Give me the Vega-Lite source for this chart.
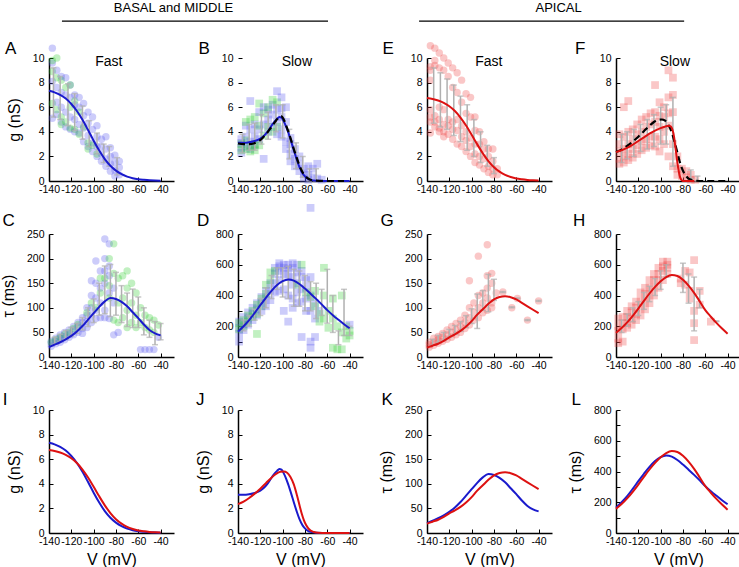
{
"$schema":"https://vega.github.io/schema/vega-lite/v6.json",
"background":"white",
"padding":{"left":0,"top":1,"right":0,"bottom":0},
"columns":4,
"spacing":{"row":53,"column":64},
"bounds":"flush",
"resolve":{"scale":{"x":"independent","y":"independent"}},
"config":{"view":{"stroke":null},"font":"Liberation Sans",
 "axis":{"domainColor":"#000","domainWidth":1.5,"tickColor":"#000","tickSize":-4,"tickWidth":1,"labelFontSize":10.5,"labelColor":"#000","labelFont":"Liberation Sans","titleFont":"Liberation Sans","titleFontSize":16,"titleFontWeight":"normal","titleColor":"#000","labelFlush":false,"labelOverlap":false,"grid":false},
 "axisX":{"labelPadding":7,"titlePadding":5},
 "axisY":{"labelPadding":9,"titlePadding":10},
 "text":{"font":"Liberation Sans","color":"#000"}},
"datasets":{
"pA":[{"v":-137,"y":10.8,"c":"b"},{"v":-137,"y":9.6,"c":"b"},{"v":-137,"y":8.1,"c":"b"},{"v":-137,"y":5.1,"c":"b"},{"v":-137,"y":9.8,"c":"g"},{"v":-137,"y":8.9,"c":"g"},{"v":-137,"y":6.3,"c":"g"},
{"v":-133,"y":9.0,"c":"b"},{"v":-133,"y":7.6,"c":"b"},{"v":-133,"y":6.4,"c":"b"},{"v":-133,"y":5.4,"c":"b"},{"v":-133,"y":10.0,"c":"g"},{"v":-133,"y":8.4,"c":"g"},{"v":-133,"y":5.8,"c":"g"},
{"v":-129,"y":8.5,"c":"b"},{"v":-129,"y":7.2,"c":"b"},{"v":-129,"y":6.0,"c":"b"},{"v":-129,"y":4.8,"c":"b"},{"v":-129,"y":8.2,"c":"g"},{"v":-129,"y":5.2,"c":"g"},{"v":-129,"y":4.6,"c":"g"},
{"v":-125,"y":8.4,"c":"b"},{"v":-125,"y":7.0,"c":"b"},{"v":-125,"y":5.6,"c":"b"},{"v":-125,"y":4.4,"c":"b"},{"v":-125,"y":7.6,"c":"g"},{"v":-125,"y":4.8,"c":"g"},
{"v":-121,"y":7.8,"c":"b"},{"v":-121,"y":6.8,"c":"b"},{"v":-121,"y":5.2,"c":"b"},{"v":-121,"y":4.2,"c":"b"},{"v":-121,"y":7.8,"c":"g"},{"v":-121,"y":6.0,"c":"g"},{"v":-121,"y":4.3,"c":"g"},
{"v":-117,"y":7.0,"c":"b"},{"v":-117,"y":6.2,"c":"b"},{"v":-117,"y":5.0,"c":"b"},{"v":-117,"y":4.0,"c":"b"},{"v":-117,"y":6.5,"c":"g"},{"v":-117,"y":4.2,"c":"g"},
{"v":-113,"y":6.8,"c":"b"},{"v":-113,"y":6.0,"c":"b"},{"v":-113,"y":4.6,"c":"b"},{"v":-113,"y":3.9,"c":"b"},{"v":-113,"y":5.6,"c":"g"},{"v":-113,"y":3.8,"c":"g"},
{"v":-109,"y":6.3,"c":"b"},{"v":-109,"y":5.3,"c":"b"},{"v":-109,"y":4.3,"c":"b"},{"v":-109,"y":3.2,"c":"b"},{"v":-109,"y":4.4,"c":"g"},
{"v":-105,"y":5.6,"c":"b"},{"v":-105,"y":4.7,"c":"b"},{"v":-105,"y":3.7,"c":"b"},{"v":-105,"y":2.8,"c":"b"},{"v":-105,"y":3.1,"c":"g"},{"v":-105,"y":2.6,"c":"g"},
{"v":-101,"y":5.2,"c":"b"},{"v":-101,"y":4.2,"c":"b"},{"v":-101,"y":3.1,"c":"b"},{"v":-101,"y":2.4,"c":"b"},{"v":-101,"y":2.9,"c":"g"},
{"v":-97,"y":4.5,"c":"b"},{"v":-97,"y":3.6,"c":"b"},{"v":-97,"y":2.8,"c":"b"},{"v":-97,"y":2.0,"c":"b"},{"v":-97,"y":2.2,"c":"g"},
{"v":-93,"y":3.4,"c":"b"},{"v":-93,"y":2.8,"c":"b"},{"v":-93,"y":2.2,"c":"b"},{"v":-93,"y":1.6,"c":"b"},
{"v":-89,"y":3.6,"c":"b"},{"v":-89,"y":2.6,"c":"b"},{"v":-89,"y":1.8,"c":"b"},{"v":-89,"y":1.2,"c":"b"},
{"v":-85,"y":2.7,"c":"b"},{"v":-85,"y":2.0,"c":"b"},{"v":-85,"y":1.4,"c":"b"},{"v":-85,"y":0.8,"c":"b"},
{"v":-81,"y":2.1,"c":"b"},{"v":-81,"y":1.5,"c":"b"},{"v":-81,"y":0.9,"c":"b"},{"v":-81,"y":0.4,"c":"b"},
{"v":-77,"y":1.6,"c":"b"},{"v":-77,"y":1.1,"c":"b"},{"v":-77,"y":0.5,"c":"b"}],
"eA":[{"v":-136,"y":5.2,"y2":9.2},{"v":-130,"y":5.0,"y2":8.5},{"v":-123,"y":4.5,"y2":7.9},{"v":-117,"y":4.1,"y2":7.1},{"v":-110,"y":3.4,"y2":6.1},{"v":-104,"y":2.8,"y2":4.9},{"v":-97,"y":2.2,"y2":3.9},{"v":-91,"y":1.5,"y2":3.0},{"v":-86,"y":1.2,"y2":2.8},{"v":-79,"y":0.5,"y2":1.9}],
"pB":[{"v":-137,"y":3.4,"c":"b"},{"v":-137,"y":3.1,"c":"b"},{"v":-137,"y":2.7,"c":"b"},{"v":-137,"y":2.3,"c":"b"},{"v":-137,"y":3.0,"c":"g"},{"v":-137,"y":2.5,"c":"g"},
{"v":-133,"y":4.5,"c":"b"},{"v":-133,"y":3.6,"c":"b"},{"v":-133,"y":2.8,"c":"b"},{"v":-133,"y":4.8,"c":"g"},{"v":-133,"y":3.3,"c":"g"},{"v":-133,"y":2.6,"c":"g"},
{"v":-129,"y":6.5,"c":"b"},{"v":-129,"y":4.2,"c":"b"},{"v":-129,"y":3.2,"c":"b"},{"v":-129,"y":2.6,"c":"b"},{"v":-129,"y":5.0,"c":"g"},{"v":-129,"y":2.8,"c":"g"},{"v":-129,"y":2.4,"c":"g"},
{"v":-125,"y":4.6,"c":"b"},{"v":-125,"y":3.6,"c":"b"},{"v":-125,"y":2.9,"c":"b"},{"v":-125,"y":5.2,"c":"g"},{"v":-125,"y":3.0,"c":"g"},{"v":-125,"y":2.5,"c":"g"},
{"v":-121,"y":5.6,"c":"b"},{"v":-121,"y":4.2,"c":"b"},{"v":-121,"y":3.4,"c":"b"},{"v":-121,"y":6.3,"c":"g"},{"v":-121,"y":4.5,"c":"g"},{"v":-121,"y":2.9,"c":"g"},
{"v":-117,"y":6.0,"c":"b"},{"v":-117,"y":4.6,"c":"b"},{"v":-117,"y":1.8,"c":"b"},{"v":-117,"y":5.5,"c":"g"},{"v":-117,"y":3.7,"c":"g"},
{"v":-113,"y":5.8,"c":"b"},{"v":-113,"y":5.0,"c":"b"},{"v":-113,"y":4.0,"c":"b"},{"v":-113,"y":6.0,"c":"g"},{"v":-113,"y":4.4,"c":"g"},
{"v":-109,"y":6.2,"c":"b"},{"v":-109,"y":5.4,"c":"b"},{"v":-109,"y":4.4,"c":"b"},{"v":-109,"y":6.6,"c":"g"},{"v":-109,"y":4.0,"c":"g"},
{"v":-105,"y":7.3,"c":"b"},{"v":-105,"y":5.8,"c":"b"},{"v":-105,"y":4.8,"c":"b"},{"v":-105,"y":3.8,"c":"b"},{"v":-105,"y":6.4,"c":"g"},{"v":-105,"y":4.4,"c":"g"},
{"v":-101,"y":6.8,"c":"b"},{"v":-101,"y":5.9,"c":"b"},{"v":-101,"y":5.2,"c":"b"},{"v":-101,"y":4.2,"c":"b"},{"v":-101,"y":3.6,"c":"b"},
{"v":-97,"y":6.0,"c":"b"},{"v":-97,"y":4.8,"c":"b"},{"v":-97,"y":3.2,"c":"b"},{"v":-97,"y":2.6,"c":"b"},
{"v":-93,"y":3.5,"c":"b"},{"v":-93,"y":3.0,"c":"b"},{"v":-93,"y":2.2,"c":"b"},{"v":-93,"y":1.6,"c":"b"},
{"v":-89,"y":2.6,"c":"b"},{"v":-89,"y":1.8,"c":"b"},{"v":-89,"y":1.2,"c":"b"},
{"v":-85,"y":2.0,"c":"b"},{"v":-85,"y":1.4,"c":"b"},{"v":-85,"y":0.8,"c":"b"},
{"v":-81,"y":1.0,"c":"b"},{"v":-81,"y":0.6,"c":"b"},{"v":-81,"y":0.2,"c":"b"},
{"v":-77,"y":1.2,"c":"b"},{"v":-77,"y":0.5,"c":"b"},{"v":-77,"y":0.1,"c":"b"},
{"v":-73,"y":1.0,"c":"b"},{"v":-73,"y":0.3,"c":"b"},{"v":-69,"y":1.4,"c":"b"},{"v":-69,"y":0.2,"c":"b"},{"v":-65,"y":0.1,"c":"b"}],
"eB":[{"v":-136,"y":2.3,"y2":3.8},{"v":-130,"y":2.5,"y2":4.6},{"v":-125,"y":2.5,"y2":4.7},{"v":-119,"y":3.0,"y2":5.4},{"v":-113,"y":3.4,"y2":5.6},{"v":-106,"y":4.0,"y2":6.2},{"v":-100,"y":3.5,"y2":6.2},{"v":-94,"y":1.8,"y2":4.2},{"v":-88,"y":1.0,"y2":3.1},{"v":-82,"y":0.3,"y2":2.0},{"v":-76,"y":0.0,"y2":1.0},{"v":-70,"y":0.0,"y2":1.0}],
"pE":[{"v":-137,"y":11.0,"c":"r"},{"v":-137,"y":9.3,"c":"r"},{"v":-137,"y":9.0,"c":"r"},{"v":-137,"y":8.2,"c":"r"},{"v":-137,"y":5.8,"c":"r"},{"v":-137,"y":5.2,"c":"r"},{"v":-137,"y":4.8,"c":"r"},{"v":-137,"y":3.9,"c":"r"},
{"v":-133,"y":10.8,"c":"r"},{"v":-133,"y":9.8,"c":"r"},{"v":-133,"y":9.4,"c":"r"},{"v":-133,"y":5.3,"c":"r"},{"v":-133,"y":4.8,"c":"r"},{"v":-133,"y":4.4,"c":"r"},
{"v":-129,"y":10.4,"c":"r"},{"v":-129,"y":9.2,"c":"r"},{"v":-129,"y":6.0,"c":"r"},{"v":-129,"y":5.0,"c":"r"},{"v":-129,"y":4.3,"c":"r"},{"v":-129,"y":4.0,"c":"r"},
{"v":-125,"y":10.0,"c":"r"},{"v":-125,"y":9.0,"c":"r"},{"v":-125,"y":5.8,"c":"r"},{"v":-125,"y":4.6,"c":"r"},{"v":-125,"y":4.0,"c":"r"},{"v":-125,"y":3.6,"c":"r"},
{"v":-121,"y":9.6,"c":"r"},{"v":-121,"y":8.5,"c":"r"},{"v":-121,"y":5.0,"c":"r"},{"v":-121,"y":4.5,"c":"r"},{"v":-121,"y":3.8,"c":"r"},
{"v":-117,"y":9.2,"c":"r"},{"v":-117,"y":7.6,"c":"r"},{"v":-117,"y":4.8,"c":"r"},{"v":-117,"y":4.2,"c":"r"},{"v":-117,"y":3.4,"c":"r"},
{"v":-113,"y":8.8,"c":"r"},{"v":-113,"y":7.2,"c":"r"},{"v":-113,"y":5.0,"c":"r"},{"v":-113,"y":4.1,"c":"r"},{"v":-113,"y":3.0,"c":"r"},
{"v":-109,"y":8.2,"c":"r"},{"v":-109,"y":6.4,"c":"r"},{"v":-109,"y":4.5,"c":"r"},{"v":-109,"y":3.6,"c":"r"},{"v":-109,"y":2.8,"c":"r"},
{"v":-105,"y":7.1,"c":"r"},{"v":-105,"y":5.5,"c":"r"},{"v":-105,"y":4.0,"c":"r"},{"v":-105,"y":3.3,"c":"r"},{"v":-105,"y":2.4,"c":"r"},
{"v":-101,"y":6.8,"c":"r"},{"v":-101,"y":5.2,"c":"r"},{"v":-101,"y":3.5,"c":"r"},{"v":-101,"y":2.8,"c":"r"},{"v":-101,"y":2.0,"c":"r"},
{"v":-97,"y":5.2,"c":"r"},{"v":-97,"y":4.1,"c":"r"},{"v":-97,"y":3.0,"c":"r"},{"v":-97,"y":2.2,"c":"r"},{"v":-97,"y":1.5,"c":"r"},
{"v":-93,"y":4.0,"c":"r"},{"v":-93,"y":3.0,"c":"r"},{"v":-93,"y":2.0,"c":"r"},{"v":-93,"y":1.3,"c":"r"},
{"v":-89,"y":3.2,"c":"r"},{"v":-89,"y":2.6,"c":"r"},{"v":-89,"y":1.8,"c":"r"},{"v":-89,"y":1.0,"c":"r"},
{"v":-85,"y":2.6,"c":"r"},{"v":-85,"y":2.0,"c":"r"},{"v":-85,"y":1.2,"c":"r"},{"v":-85,"y":0.7,"c":"r"},
{"v":-81,"y":2.6,"c":"r"},{"v":-81,"y":1.6,"c":"r"},{"v":-81,"y":1.0,"c":"r"},{"v":-81,"y":0.5,"c":"r"},
{"v":-77,"y":1.0,"c":"r"},{"v":-77,"y":0.5,"c":"r"}],
"eE":[{"v":-134,"y":4.7,"y2":9.2},{"v":-128,"y":4.4,"y2":8.8},{"v":-122,"y":4.2,"y2":8.3},{"v":-116,"y":3.7,"y2":7.8},{"v":-110,"y":3.2,"y2":6.9},{"v":-104,"y":2.5,"y2":6.2},{"v":-98,"y":2.0,"y2":5.0},{"v":-92,"y":1.5,"y2":4.0},{"v":-86,"y":1.2,"y2":2.9},{"v":-80,"y":0.6,"y2":1.9}],
"pF":[{"v":-137,"y":3.8,"c":"r"},{"v":-137,"y":3.0,"c":"r"},{"v":-137,"y":2.4,"c":"r"},{"v":-137,"y":1.8,"c":"r"},{"v":-137,"y":1.4,"c":"r"},
{"v":-133,"y":6.0,"c":"r"},{"v":-133,"y":3.6,"c":"r"},{"v":-133,"y":2.6,"c":"r"},{"v":-133,"y":2.0,"c":"r"},{"v":-133,"y":1.5,"c":"r"},
{"v":-129,"y":6.5,"c":"r"},{"v":-129,"y":4.0,"c":"r"},{"v":-129,"y":3.0,"c":"r"},{"v":-129,"y":2.2,"c":"r"},{"v":-129,"y":1.7,"c":"r"},
{"v":-125,"y":4.2,"c":"r"},{"v":-125,"y":3.4,"c":"r"},{"v":-125,"y":2.6,"c":"r"},{"v":-125,"y":1.9,"c":"r"},
{"v":-121,"y":4.6,"c":"r"},{"v":-121,"y":3.8,"c":"r"},{"v":-121,"y":2.9,"c":"r"},{"v":-121,"y":2.2,"c":"r"},
{"v":-117,"y":5.0,"c":"r"},{"v":-117,"y":4.0,"c":"r"},{"v":-117,"y":3.2,"c":"r"},{"v":-117,"y":2.5,"c":"r"},
{"v":-113,"y":5.2,"c":"r"},{"v":-113,"y":4.4,"c":"r"},{"v":-113,"y":3.4,"c":"r"},{"v":-113,"y":2.7,"c":"r"},
{"v":-109,"y":5.5,"c":"r"},{"v":-109,"y":4.6,"c":"r"},{"v":-109,"y":3.6,"c":"r"},{"v":-109,"y":2.9,"c":"r"},
{"v":-105,"y":7.8,"c":"r"},{"v":-105,"y":5.6,"c":"r"},{"v":-105,"y":4.8,"c":"r"},{"v":-105,"y":3.6,"c":"r"},{"v":-105,"y":2.8,"c":"r"},
{"v":-101,"y":6.4,"c":"r"},{"v":-101,"y":5.3,"c":"r"},{"v":-101,"y":4.4,"c":"r"},{"v":-101,"y":3.4,"c":"r"},{"v":-101,"y":2.4,"c":"r"},
{"v":-97,"y":6.0,"c":"r"},{"v":-97,"y":5.2,"c":"r"},{"v":-97,"y":4.0,"c":"r"},{"v":-97,"y":3.0,"c":"r"},
{"v":-93,"y":9.0,"c":"r"},{"v":-93,"y":6.8,"c":"r"},{"v":-93,"y":5.5,"c":"r"},{"v":-93,"y":4.5,"c":"r"},{"v":-93,"y":2.0,"c":"r"},
{"v":-89,"y":8.4,"c":"r"},{"v":-89,"y":7.0,"c":"r"},{"v":-89,"y":5.6,"c":"r"},{"v":-89,"y":3.0,"c":"r"},{"v":-89,"y":1.2,"c":"r"},
{"v":-85,"y":2.0,"c":"r"},{"v":-85,"y":1.0,"c":"r"},{"v":-85,"y":0.5,"c":"r"},{"v":-81,"y":1.0,"c":"r"},{"v":-81,"y":0.4,"c":"r"},
{"v":-77,"y":0.8,"c":"r"},{"v":-77,"y":0.3,"c":"r"},{"v":-73,"y":0.5,"c":"r"},{"v":-73,"y":0.1,"c":"r"},{"v":-69,"y":0.1,"c":"r"}],
"eF":[{"v":-135,"y":1.5,"y2":3.8},{"v":-130,"y":1.8,"y2":4.0},{"v":-124,"y":2.0,"y2":4.2},{"v":-118,"y":2.4,"y2":4.6},{"v":-112,"y":2.6,"y2":5.0},{"v":-106,"y":2.8,"y2":5.4},{"v":-100,"y":3.0,"y2":6.0},{"v":-95,"y":3.0,"y2":6.2},{"v":-89,"y":1.2,"y2":6.8},{"v":-73,"y":0.2,"y2":0.9},{"v":-67,"y":0.0,"y2":0.4}],
"pC":[{"v":-138,"y":32,"c":"b"},{"v":-138,"y":28,"c":"b"},{"v":-138,"y":22,"c":"b"},{"v":-138,"y":30,"c":"g"},
{"v":-134,"y":38,"c":"b"},{"v":-134,"y":33,"c":"b"},{"v":-134,"y":27,"c":"b"},{"v":-134,"y":35,"c":"g"},
{"v":-130,"y":45,"c":"b"},{"v":-130,"y":38,"c":"b"},{"v":-130,"y":30,"c":"b"},{"v":-130,"y":40,"c":"g"},
{"v":-126,"y":50,"c":"b"},{"v":-126,"y":42,"c":"b"},{"v":-126,"y":35,"c":"b"},{"v":-126,"y":46,"c":"g"},
{"v":-122,"y":55,"c":"b"},{"v":-122,"y":48,"c":"b"},{"v":-122,"y":40,"c":"b"},{"v":-122,"y":50,"c":"g"},
{"v":-118,"y":62,"c":"b"},{"v":-118,"y":55,"c":"b"},{"v":-118,"y":45,"c":"b"},{"v":-118,"y":58,"c":"g"},
{"v":-114,"y":70,"c":"b"},{"v":-114,"y":62,"c":"b"},{"v":-114,"y":50,"c":"b"},{"v":-114,"y":66,"c":"g"},
{"v":-110,"y":80,"c":"b"},{"v":-110,"y":70,"c":"b"},{"v":-110,"y":58,"c":"b"},{"v":-110,"y":48,"c":"b"},
{"v":-106,"y":100,"c":"b"},{"v":-106,"y":85,"c":"b"},{"v":-106,"y":72,"c":"b"},{"v":-106,"y":60,"c":"b"},{"v":-106,"y":90,"c":"g"},
{"v":-102,"y":155,"c":"b"},{"v":-102,"y":125,"c":"b"},{"v":-102,"y":100,"c":"b"},{"v":-102,"y":85,"c":"b"},{"v":-102,"y":70,"c":"b"},{"v":-102,"y":110,"c":"g"},
{"v":-98,"y":195,"c":"b"},{"v":-98,"y":150,"c":"b"},{"v":-98,"y":120,"c":"b"},{"v":-98,"y":95,"c":"b"},{"v":-98,"y":78,"c":"b"},{"v":-98,"y":100,"c":"g"},
{"v":-94,"y":175,"c":"b"},{"v":-94,"y":140,"c":"b"},{"v":-94,"y":110,"c":"b"},{"v":-94,"y":80,"c":"b"},{"v":-94,"y":160,"c":"g"},{"v":-94,"y":130,"c":"g"},
{"v":-90,"y":240,"c":"b"},{"v":-90,"y":200,"c":"b"},{"v":-90,"y":175,"c":"b"},{"v":-90,"y":150,"c":"b"},{"v":-90,"y":95,"c":"b"},{"v":-90,"y":80,"c":"b"},{"v":-90,"y":160,"c":"g"},
{"v":-86,"y":230,"c":"b"},{"v":-86,"y":185,"c":"b"},{"v":-86,"y":165,"c":"b"},{"v":-86,"y":130,"c":"b"},{"v":-86,"y":78,"c":"b"},{"v":-86,"y":200,"c":"g"},{"v":-86,"y":145,"c":"g"},{"v":-86,"y":120,"c":"g"},
{"v":-82,"y":140,"c":"b"},{"v":-82,"y":110,"c":"b"},{"v":-82,"y":45,"c":"b"},{"v":-82,"y":230,"c":"g"},{"v":-82,"y":170,"c":"g"},{"v":-82,"y":75,"c":"g"},
{"v":-78,"y":50,"c":"b"},{"v":-78,"y":160,"c":"g"},{"v":-78,"y":110,"c":"g"},{"v":-78,"y":70,"c":"g"},
{"v":-74,"y":165,"c":"g"},{"v":-74,"y":120,"c":"g"},{"v":-74,"y":80,"c":"g"},
{"v":-70,"y":175,"c":"g"},{"v":-70,"y":140,"c":"g"},{"v":-70,"y":95,"c":"g"},{"v":-70,"y":60,"c":"g"},
{"v":-66,"y":150,"c":"g"},{"v":-66,"y":110,"c":"g"},{"v":-66,"y":70,"c":"g"},
{"v":-62,"y":130,"c":"g"},{"v":-62,"y":85,"c":"g"},{"v":-62,"y":60,"c":"g"},
{"v":-58,"y":100,"c":"g"},{"v":-58,"y":70,"c":"g"},{"v":-58,"y":15,"c":"b"},
{"v":-54,"y":85,"c":"g"},{"v":-54,"y":60,"c":"g"},{"v":-54,"y":15,"c":"b"},
{"v":-50,"y":80,"c":"g"},{"v":-50,"y":55,"c":"g"},{"v":-50,"y":15,"c":"b"},
{"v":-46,"y":75,"c":"g"},{"v":-46,"y":50,"c":"g"},{"v":-46,"y":15,"c":"b"},
{"v":-42,"y":65,"c":"g"},{"v":-42,"y":40,"c":"b"}],
"eC":[{"v":-135,"y":26,"y2":40},{"v":-130,"y":32,"y2":46},{"v":-125,"y":36,"y2":54},{"v":-120,"y":42,"y2":60},{"v":-115,"y":48,"y2":68},{"v":-110,"y":55,"y2":80},{"v":-105,"y":62,"y2":100},{"v":-100,"y":70,"y2":118},{"v":-95,"y":85,"y2":150},{"v":-90,"y":88,"y2":185},{"v":-85,"y":82,"y2":188},{"v":-80,"y":85,"y2":172},{"v":-75,"y":70,"y2":145},{"v":-70,"y":62,"y2":130},{"v":-65,"y":60,"y2":138},{"v":-60,"y":60,"y2":122},{"v":-55,"y":45,"y2":100},{"v":-50,"y":40,"y2":75},{"v":-45,"y":25,"y2":72},{"v":-40,"y":35,"y2":68}],
"pD":[{"v":-139,"y":230,"c":"b"},{"v":-139,"y":190,"c":"b"},{"v":-139,"y":150,"c":"b"},{"v":-139,"y":100,"c":"b"},{"v":-139,"y":220,"c":"g"},{"v":-139,"y":180,"c":"g"},
{"v":-135,"y":260,"c":"b"},{"v":-135,"y":215,"c":"b"},{"v":-135,"y":175,"c":"b"},{"v":-135,"y":240,"c":"g"},{"v":-135,"y":200,"c":"g"},
{"v":-131,"y":290,"c":"b"},{"v":-131,"y":250,"c":"b"},{"v":-131,"y":210,"c":"b"},{"v":-131,"y":270,"c":"g"},{"v":-131,"y":230,"c":"g"},
{"v":-127,"y":320,"c":"b"},{"v":-127,"y":280,"c":"b"},{"v":-127,"y":240,"c":"b"},{"v":-127,"y":300,"c":"g"},{"v":-127,"y":260,"c":"g"},
{"v":-123,"y":350,"c":"b"},{"v":-123,"y":310,"c":"b"},{"v":-123,"y":270,"c":"b"},{"v":-123,"y":340,"c":"g"},{"v":-123,"y":280,"c":"g"},{"v":-123,"y":150,"c":"g"},
{"v":-119,"y":390,"c":"b"},{"v":-119,"y":350,"c":"b"},{"v":-119,"y":300,"c":"b"},{"v":-119,"y":380,"c":"g"},{"v":-119,"y":330,"c":"g"},
{"v":-115,"y":430,"c":"b"},{"v":-115,"y":380,"c":"b"},{"v":-115,"y":330,"c":"b"},{"v":-115,"y":470,"c":"g"},{"v":-115,"y":410,"c":"g"},
{"v":-111,"y":480,"c":"b"},{"v":-111,"y":430,"c":"b"},{"v":-111,"y":370,"c":"b"},{"v":-111,"y":550,"c":"g"},{"v":-111,"y":500,"c":"g"},
{"v":-107,"y":580,"c":"b"},{"v":-107,"y":540,"c":"b"},{"v":-107,"y":480,"c":"b"},{"v":-107,"y":420,"c":"b"},{"v":-107,"y":560,"c":"g"},
{"v":-103,"y":610,"c":"b"},{"v":-103,"y":590,"c":"b"},{"v":-103,"y":560,"c":"b"},{"v":-103,"y":500,"c":"b"},{"v":-103,"y":430,"c":"b"},
{"v":-99,"y":600,"c":"b"},{"v":-99,"y":580,"c":"b"},{"v":-99,"y":540,"c":"b"},{"v":-99,"y":440,"c":"b"},{"v":-99,"y":300,"c":"b"},
{"v":-95,"y":600,"c":"b"},{"v":-95,"y":570,"c":"b"},{"v":-95,"y":520,"c":"b"},{"v":-95,"y":400,"c":"b"},{"v":-95,"y":230,"c":"b"},
{"v":-91,"y":610,"c":"b"},{"v":-91,"y":580,"c":"b"},{"v":-91,"y":520,"c":"b"},{"v":-91,"y":470,"c":"b"},{"v":-91,"y":380,"c":"b"},{"v":-91,"y":320,"c":"b"},
{"v":-87,"y":600,"c":"b"},{"v":-87,"y":550,"c":"b"},{"v":-87,"y":480,"c":"b"},{"v":-87,"y":420,"c":"b"},{"v":-87,"y":350,"c":"b"},{"v":-87,"y":470,"c":"g"},
{"v":-83,"y":560,"c":"b"},{"v":-83,"y":520,"c":"b"},{"v":-83,"y":440,"c":"b"},{"v":-83,"y":360,"c":"b"},{"v":-83,"y":130,"c":"b"},{"v":-83,"y":600,"c":"g"},
{"v":-79,"y":500,"c":"b"},{"v":-79,"y":450,"c":"b"},{"v":-79,"y":380,"c":"b"},{"v":-79,"y":300,"c":"b"},{"v":-79,"y":420,"c":"g"},
{"v":-75,"y":520,"c":"b"},{"v":-75,"y":400,"c":"b"},{"v":-75,"y":300,"c":"b"},{"v":-75,"y":100,"c":"b"},{"v":-75,"y":60,"c":"b"},{"v":-75,"y":970,"c":"b"},{"v":-75,"y":390,"c":"g"},
{"v":-71,"y":350,"c":"b"},{"v":-71,"y":250,"c":"b"},{"v":-71,"y":130,"c":"b"},{"v":-71,"y":430,"c":"g"},{"v":-71,"y":330,"c":"g"},
{"v":-67,"y":300,"c":"b"},{"v":-67,"y":280,"c":"g"},{"v":-67,"y":230,"c":"g"},
{"v":-63,"y":580,"c":"g"},{"v":-63,"y":400,"c":"g"},{"v":-63,"y":250,"c":"g"},
{"v":-59,"y":300,"c":"g"},{"v":-59,"y":190,"c":"g"},
{"v":-55,"y":380,"c":"g"},{"v":-55,"y":250,"c":"g"},{"v":-55,"y":60,"c":"g"},
{"v":-51,"y":50,"c":"g"},{"v":-51,"y":200,"c":"g"},
{"v":-47,"y":400,"c":"g"},{"v":-47,"y":160,"c":"g"},{"v":-47,"y":50,"c":"g"},
{"v":-43,"y":200,"c":"g"},{"v":-43,"y":120,"c":"g"},
{"v":-40,"y":210,"c":"b"},{"v":-40,"y":170,"c":"g"},{"v":-40,"y":140,"c":"g"}],
"eD":[{"v":-135,"y":170,"y2":240},{"v":-130,"y":200,"y2":270},{"v":-125,"y":240,"y2":310},{"v":-120,"y":270,"y2":380},{"v":-115,"y":320,"y2":450},{"v":-110,"y":380,"y2":530},{"v":-105,"y":440,"y2":580},{"v":-100,"y":390,"y2":580},{"v":-95,"y":380,"y2":590},{"v":-90,"y":330,"y2":570},{"v":-85,"y":330,"y2":560},{"v":-80,"y":300,"y2":530},{"v":-75,"y":300,"y2":490},{"v":-70,"y":250,"y2":480},{"v":-65,"y":270,"y2":440},{"v":-60,"y":220,"y2":570},{"v":-55,"y":160,"y2":400},{"v":-50,"y":80,"y2":170},{"v":-45,"y":140,"y2":440},{"v":-40,"y":140,"y2":200}],
"pG":[{"v":-138,"y":30,"c":"r"},{"v":-138,"y":25,"c":"r"},{"v":-138,"y":20,"c":"r"},
{"v":-134,"y":38,"c":"r"},{"v":-134,"y":30,"c":"r"},{"v":-134,"y":24,"c":"r"},
{"v":-130,"y":42,"c":"r"},{"v":-130,"y":35,"c":"r"},{"v":-130,"y":28,"c":"r"},
{"v":-126,"y":48,"c":"r"},{"v":-126,"y":40,"c":"r"},{"v":-126,"y":32,"c":"r"},
{"v":-122,"y":55,"c":"r"},{"v":-122,"y":45,"c":"r"},{"v":-122,"y":36,"c":"r"},
{"v":-118,"y":62,"c":"r"},{"v":-118,"y":50,"c":"r"},{"v":-118,"y":40,"c":"r"},
{"v":-114,"y":68,"c":"r"},{"v":-114,"y":55,"c":"r"},{"v":-114,"y":45,"c":"r"},
{"v":-110,"y":75,"c":"r"},{"v":-110,"y":62,"c":"r"},{"v":-110,"y":50,"c":"r"},
{"v":-106,"y":85,"c":"r"},{"v":-106,"y":70,"c":"r"},{"v":-106,"y":58,"c":"r"},
{"v":-102,"y":155,"c":"r"},{"v":-102,"y":100,"c":"r"},{"v":-102,"y":80,"c":"r"},{"v":-102,"y":65,"c":"r"},
{"v":-98,"y":110,"c":"r"},{"v":-98,"y":90,"c":"r"},{"v":-98,"y":75,"c":"r"},
{"v":-94,"y":205,"c":"r"},{"v":-94,"y":125,"c":"r"},{"v":-94,"y":100,"c":"r"},{"v":-94,"y":80,"c":"r"},
{"v":-90,"y":130,"c":"r"},{"v":-90,"y":110,"c":"r"},{"v":-90,"y":90,"c":"r"},
{"v":-86,"y":228,"c":"r"},{"v":-86,"y":165,"c":"r"},{"v":-86,"y":140,"c":"r"},{"v":-86,"y":120,"c":"r"},{"v":-86,"y":95,"c":"r"},
{"v":-82,"y":170,"c":"r"},{"v":-82,"y":150,"c":"r"},{"v":-82,"y":110,"c":"r"},{"v":-82,"y":100,"c":"r"},
{"v":-78,"y":130,"c":"r"},{"v":-72,"y":132,"c":"r"},{"v":-64,"y":100,"c":"r"},{"v":-59,"y":119,"c":"r"},{"v":-50,"y":75,"c":"r"},{"v":-40,"y":114,"c":"r"}],
"eG":[{"v":-135,"y":24,"y2":36},{"v":-130,"y":30,"y2":44},{"v":-125,"y":34,"y2":50},{"v":-120,"y":40,"y2":56},{"v":-115,"y":46,"y2":64},{"v":-110,"y":52,"y2":72},{"v":-105,"y":60,"y2":84},{"v":-100,"y":68,"y2":98},{"v":-95,"y":58,"y2":128},{"v":-90,"y":95,"y2":135},{"v":-85,"y":92,"y2":168},{"v":-80,"y":115,"y2":158},{"v":-72,"y":131,"y2":133},{"v":-64,"y":100,"y2":102},{"v":-59,"y":118,"y2":120},{"v":-50,"y":74,"y2":76},{"v":-40,"y":113,"y2":115}],
"pH":[{"v":-138,"y":250,"c":"r"},{"v":-138,"y":200,"c":"r"},{"v":-138,"y":170,"c":"r"},{"v":-138,"y":120,"c":"r"},{"v":-138,"y":90,"c":"r"},
{"v":-134,"y":260,"c":"r"},{"v":-134,"y":220,"c":"r"},{"v":-134,"y":180,"c":"r"},{"v":-134,"y":100,"c":"r"},
{"v":-130,"y":300,"c":"r"},{"v":-130,"y":260,"c":"r"},{"v":-130,"y":220,"c":"r"},{"v":-130,"y":190,"c":"r"},
{"v":-126,"y":330,"c":"r"},{"v":-126,"y":290,"c":"r"},{"v":-126,"y":250,"c":"r"},{"v":-126,"y":210,"c":"r"},
{"v":-122,"y":360,"c":"r"},{"v":-122,"y":320,"c":"r"},{"v":-122,"y":280,"c":"r"},{"v":-122,"y":240,"c":"r"},
{"v":-118,"y":420,"c":"r"},{"v":-118,"y":370,"c":"r"},{"v":-118,"y":320,"c":"r"},{"v":-118,"y":270,"c":"r"},
{"v":-114,"y":450,"c":"r"},{"v":-114,"y":410,"c":"r"},{"v":-114,"y":360,"c":"r"},{"v":-114,"y":310,"c":"r"},
{"v":-110,"y":500,"c":"r"},{"v":-110,"y":450,"c":"r"},{"v":-110,"y":400,"c":"r"},{"v":-110,"y":350,"c":"r"},
{"v":-106,"y":540,"c":"r"},{"v":-106,"y":500,"c":"r"},{"v":-106,"y":450,"c":"r"},{"v":-106,"y":400,"c":"r"},
{"v":-102,"y":580,"c":"r"},{"v":-102,"y":540,"c":"r"},{"v":-102,"y":500,"c":"r"},{"v":-102,"y":450,"c":"r"},
{"v":-98,"y":620,"c":"r"},{"v":-98,"y":590,"c":"r"},{"v":-98,"y":560,"c":"r"},{"v":-98,"y":500,"c":"r"},
{"v":-94,"y":620,"c":"r"},{"v":-94,"y":600,"c":"r"},{"v":-94,"y":580,"c":"r"},{"v":-94,"y":540,"c":"r"},
{"v":-82,"y":510,"c":"r"},{"v":-82,"y":480,"c":"r"},{"v":-78,"y":560,"c":"r"},{"v":-78,"y":470,"c":"r"},
{"v":-74,"y":550,"c":"r"},{"v":-74,"y":430,"c":"r"},{"v":-74,"y":380,"c":"r"},
{"v":-70,"y":630,"c":"r"},{"v":-70,"y":300,"c":"r"},{"v":-70,"y":220,"c":"r"},{"v":-70,"y":110,"c":"r"},
{"v":-65,"y":430,"c":"r"},{"v":-65,"y":340,"c":"r"},{"v":-55,"y":230,"c":"r"}],
"eH":[{"v":-135,"y":160,"y2":240},{"v":-130,"y":200,"y2":280},{"v":-125,"y":230,"y2":320},{"v":-120,"y":270,"y2":360},{"v":-115,"y":310,"y2":420},{"v":-110,"y":360,"y2":460},{"v":-105,"y":400,"y2":510},{"v":-100,"y":440,"y2":560},{"v":-95,"y":520,"y2":600},{"v":-80,"y":420,"y2":610},{"v":-75,"y":350,"y2":540},{"v":-70,"y":170,"y2":520},{"v":-65,"y":320,"y2":440},{"v":-50,"y":230,"y2":235}],
"cAb":[{"v":-140,"y":7.34},{"v":-135,"y":7.21},{"v":-130,"y":7.0},{"v":-125,"y":6.7},{"v":-120,"y":6.26},{"v":-115,"y":5.69},{"v":-110,"y":4.97},{"v":-105,"y":4.14},{"v":-100,"y":3.28},{"v":-95,"y":2.48},{"v":-90,"y":1.78},{"v":-85,"y":1.24},{"v":-80,"y":0.84},{"v":-75,"y":0.55},{"v":-70,"y":0.36},{"v":-65,"y":0.23},{"v":-60,"y":0.15},{"v":-55,"y":0.1},{"v":-50,"y":0.06},{"v":-45,"y":0.04},{"v":-40,"y":0.03}],
"cEr":[{"v":-140,"y":6.75},{"v":-135,"y":6.67},{"v":-130,"y":6.54},{"v":-125,"y":6.35},{"v":-120,"y":6.08},{"v":-115,"y":5.69},{"v":-110,"y":5.16},{"v":-105,"y":4.51},{"v":-100,"y":3.76},{"v":-95,"y":2.98},{"v":-90,"y":2.25},{"v":-85,"y":1.62},{"v":-80,"y":1.12},{"v":-75,"y":0.76},{"v":-70,"y":0.5},{"v":-65,"y":0.33},{"v":-60,"y":0.21},{"v":-55,"y":0.14},{"v":-50,"y":0.09},{"v":-45,"y":0.06},{"v":-40,"y":0.04}],
"cBb":[{"v":-140,"y":3.1},{"v":-135,"y":3.1},{"v":-130,"y":3.15},{"v":-125,"y":3.25},{"v":-120,"y":3.45},{"v":-117,"y":3.65},{"v":-114,"y":3.95},{"v":-111,"y":4.35},{"v":-108,"y":4.75},{"v":-105,"y":5.05},{"v":-103,"y":5.2},{"v":-101,"y":5.15},{"v":-99,"y":4.85},{"v":-97,"y":4.45},{"v":-95,"y":3.95},{"v":-92,"y":3.1},{"v":-90,"y":2.5},{"v":-87,"y":1.65},{"v":-85,"y":1.15},{"v":-82,"y":0.6},{"v":-80,"y":0.38},{"v":-77,"y":0.16},{"v":-75,"y":0.09},{"v":-70,"y":0.02},{"v":-60,"y":0},{"v":-40,"y":0}],
"cBk":[{"v":-140,"y":3.05},{"v":-135,"y":3.0},{"v":-130,"y":3.0},{"v":-126,"y":3.05},{"v":-122,"y":3.2},{"v":-118,"y":3.5},{"v":-114,"y":3.9},{"v":-110,"y":4.4},{"v":-106,"y":4.9},{"v":-103,"y":5.2},{"v":-101,"y":5.25},{"v":-99,"y":5.0},{"v":-96,"y":4.3},{"v":-93,"y":3.5},{"v":-90,"y":2.6},{"v":-87,"y":1.8},{"v":-84,"y":1.05},{"v":-81,"y":0.55},{"v":-78,"y":0.25},{"v":-75,"y":0.1},{"v":-70,"y":0.03},{"v":-60,"y":0},{"v":-45,"y":0}],
"cFr":[{"v":-140,"y":2.35},{"v":-135,"y":2.5},{"v":-130,"y":2.7},{"v":-125,"y":2.95},{"v":-120,"y":3.25},{"v":-115,"y":3.55},{"v":-110,"y":3.85},{"v":-105,"y":4.1},{"v":-100,"y":4.3},{"v":-96,"y":4.42},{"v":-93,"y":4.5},{"v":-91,"y":4.45},{"v":-89.5,"y":4.2},{"v":-88,"y":3.6},{"v":-87,"y":2.9},{"v":-86,"y":2.2},{"v":-85,"y":1.5},{"v":-84,"y":0.9},{"v":-83,"y":0.45},{"v":-82,"y":0.18},{"v":-81,"y":0.05},{"v":-80,"y":0},{"v":-70,"y":0}],
"cFk":[{"v":-140,"y":2.35},{"v":-135,"y":2.55},{"v":-130,"y":2.85},{"v":-125,"y":3.2},{"v":-120,"y":3.6},{"v":-115,"y":4.05},{"v":-110,"y":4.5},{"v":-106,"y":4.8},{"v":-102,"y":4.98},{"v":-99,"y":5.0},{"v":-96,"y":4.9},{"v":-93,"y":4.55},{"v":-90,"y":3.95},{"v":-87,"y":3.0},{"v":-85,"y":2.3},{"v":-83,"y":1.6},{"v":-81,"y":1.05},{"v":-79,"y":0.65},{"v":-77,"y":0.38},{"v":-75,"y":0.2},{"v":-72,"y":0.08},{"v":-68,"y":0.02},{"v":-60,"y":0},{"v":-40,"y":0}],
"cCb":[{"v":-140,"y":20},{"v":-135,"y":25},{"v":-130,"y":30},{"v":-125,"y":36},{"v":-120,"y":43},{"v":-115,"y":52},{"v":-110,"y":63},{"v":-105,"y":76},{"v":-100,"y":89},{"v":-95,"y":102},{"v":-90,"y":113},{"v":-85,"y":120},{"v":-80,"y":118},{"v":-75,"y":112},{"v":-70,"y":103},{"v":-65,"y":91},{"v":-60,"y":79},{"v":-55,"y":66},{"v":-50,"y":55},{"v":-45,"y":48},{"v":-40,"y":44}],
"cGr":[{"v":-140,"y":19},{"v":-135,"y":23},{"v":-130,"y":27},{"v":-125,"y":33},{"v":-120,"y":40},{"v":-115,"y":46},{"v":-110,"y":53},{"v":-105,"y":62},{"v":-100,"y":73},{"v":-95,"y":86},{"v":-90,"y":97},{"v":-85,"y":108},{"v":-80,"y":117},{"v":-75,"y":122},{"v":-70,"y":123.5},{"v":-65,"y":121.5},{"v":-60,"y":117},{"v":-55,"y":110},{"v":-50,"y":103},{"v":-45,"y":96},{"v":-40,"y":89}],
"cDb":[{"v":-140,"y":165},{"v":-135,"y":200},{"v":-130,"y":240},{"v":-125,"y":287},{"v":-120,"y":337},{"v":-115,"y":385},{"v":-110,"y":430},{"v":-105,"y":468},{"v":-100,"y":493},{"v":-95,"y":504},{"v":-90,"y":497},{"v":-85,"y":475},{"v":-80,"y":445},{"v":-75,"y":412},{"v":-70,"y":378},{"v":-65,"y":342},{"v":-60,"y":305},{"v":-55,"y":272},{"v":-50,"y":242},{"v":-45,"y":213},{"v":-40,"y":187}],
"cHr":[{"v":-140,"y":157},{"v":-135,"y":188},{"v":-130,"y":225},{"v":-125,"y":268},{"v":-120,"y":315},{"v":-115,"y":365},{"v":-110,"y":413},{"v":-105,"y":456},{"v":-100,"y":492},{"v":-95,"y":520},{"v":-90,"y":533},{"v":-85,"y":527},{"v":-80,"y":502},{"v":-75,"y":464},{"v":-70,"y":417},{"v":-65,"y":362},{"v":-60,"y":305},{"v":-55,"y":262},{"v":-50,"y":222},{"v":-45,"y":185},{"v":-40,"y":152}]
},
"concat":[
{"width":125,"height":123,
 "layer":[
  {"data":{"name":"pA"},"mark":{"type":"circle","size":55,"opacity":0.3},"encoding":{
   "x":{"field":"v","type":"quantitative","scale":{"domain":[-140,-28],"nice":false,"zero":false},"axis":{"values":[-140,-120,-100,-80,-60,-40],"labelExpr":"'' + datum.value","labelOverlap":false,"labelFlush":false,"title":null}},
   "y":{"field":"y","type":"quantitative","scale":{"domain":[0,10],"nice":false,"zero":false},"axis":{"values":[0,2,4,6,8,10],"labelOverlap":false,"title":"g (nS)"}},
   "color":{"field":"c","type":"nominal","scale":{"domain":["b","g","r"],"range":["#5555ee","#33cc33","#ee4444"]},"legend":null}}},
  {"data":{"name":"eA"},"mark":{"type":"errorbar","color":"#b0b0b0","thickness":1.5,"ticks":{"size":6}},"encoding":{
   "x":{"field":"v","type":"quantitative","scale":{"domain":[-140,-28],"nice":false,"zero":false},"axis":{"values":[-140,-120,-100,-80,-60,-40],"labelExpr":"'' + datum.value","labelOverlap":false,"labelFlush":false,"title":null}},
   "y":{"field":"y","type":"quantitative","scale":{"domain":[0,10],"nice":false,"zero":false},"axis":{"values":[0,2,4,6,8,10],"labelOverlap":false,"title":"g (nS)"}},"y2":{"field":"y2"}}},
  {"data":{"name":"cAb"},"mark":{"type":"line","color":"#1a1acc","strokeWidth":2,"interpolate":"monotone"},"encoding":{
   "x":{"field":"v","type":"quantitative","scale":{"domain":[-140,-28],"nice":false,"zero":false},"axis":{"values":[-140,-120,-100,-80,-60,-40],"labelExpr":"'' + datum.value","labelOverlap":false,"labelFlush":false,"title":null}},
   "y":{"field":"y","type":"quantitative","scale":{"domain":[0,10],"nice":false,"zero":false},"axis":{"values":[0,2,4,6,8,10],"labelOverlap":false,"title":"g (nS)"}}}},
  {"data":{"values":[{"t":"Fast"}]},"mark":{"type":"text","fontSize":14},"encoding":{
   "x":{"datum":-86.4,"scale":{"domain":[-140,-28],"nice":false,"zero":false},"axis":{"values":[-140,-120,-100,-80,-60,-40],"labelExpr":"'' + datum.value","labelOverlap":false,"labelFlush":false,"title":null}},
   "y":{"datum":9.67,"scale":{"domain":[0,10],"nice":false,"zero":false},"axis":{"values":[0,2,4,6,8,10],"labelOverlap":false,"title":"g (nS)"}},"text":{"field":"t","type":"nominal"}}},
  {"data":{"values":[{"t":"A"}]},"mark":{"type":"text","fontSize":17},"encoding":{
   "x":{"datum":-174.4,"scale":{"domain":[-140,-28],"nice":false,"zero":false},"axis":{"values":[-140,-120,-100,-80,-60,-40],"labelExpr":"'' + datum.value","labelOverlap":false,"labelFlush":false,"title":null}},
   "y":{"datum":10.73,"scale":{"domain":[0,10],"nice":false,"zero":false},"axis":{"values":[0,2,4,6,8,10],"labelOverlap":false,"title":"g (nS)"}},"text":{"field":"t","type":"nominal"}}},
  {"data":{"values":[{"t":"BASAL and MIDDLE"}]},"mark":{"type":"text","fontSize":13},"encoding":{
   "x":{"datum":-28.4,"scale":{"domain":[-140,-28],"nice":false,"zero":false},"axis":{"values":[-140,-120,-100,-80,-60,-40],"labelExpr":"'' + datum.value","labelOverlap":false,"labelFlush":false,"title":null}},
   "y":{"datum":14.07,"scale":{"domain":[0,10],"nice":false,"zero":false},"axis":{"values":[0,2,4,6,8,10],"labelOverlap":false,"title":"g (nS)"}},"text":{"field":"t","type":"nominal"}}},
  {"data":{"values":[{"t":"line"}]},"mark":{"type":"rule","color":"#000","strokeWidth":1.2},"encoding":{
   "x":{"datum":-128.4,"scale":{"domain":[-140,-28],"nice":false,"zero":false},"axis":{"values":[-140,-120,-100,-80,-60,-40],"labelExpr":"'' + datum.value","labelOverlap":false,"labelFlush":false,"title":null}},"x2":{"datum":110},
   "y":{"datum":13.0,"scale":{"domain":[0,10],"nice":false,"zero":false},"axis":{"values":[0,2,4,6,8,10],"labelOverlap":false,"title":"g (nS)"}}}}
 ]},
{"width":125,"height":123,
 "layer":[
  {"data":{"name":"pB"},"mark":{"type":"square","size":60,"opacity":0.3},"encoding":{
   "x":{"field":"v","type":"quantitative","scale":{"domain":[-140,-28],"nice":false,"zero":false},"axis":{"values":[-140,-120,-100,-80,-60,-40],"labelExpr":"'' + datum.value","labelOverlap":false,"labelFlush":false,"title":null}},
   "y":{"field":"y","type":"quantitative","scale":{"domain":[0,10],"nice":false,"zero":false},"axis":{"values":[0,2,4,6,8,10],"labelOverlap":false,"title":null,"domain":false}},
   "color":{"field":"c","type":"nominal","scale":{"domain":["b","g","r"],"range":["#5555ee","#33cc33","#ee4444"]},"legend":null}}},
  {"data":{"name":"eB"},"mark":{"type":"errorbar","color":"#b0b0b0","thickness":1.5,"ticks":{"size":6}},"encoding":{
   "x":{"field":"v","type":"quantitative","scale":{"domain":[-140,-28],"nice":false,"zero":false},"axis":{"values":[-140,-120,-100,-80,-60,-40],"labelExpr":"'' + datum.value","labelOverlap":false,"labelFlush":false,"title":null}},
   "y":{"field":"y","type":"quantitative","scale":{"domain":[0,10],"nice":false,"zero":false},"axis":{"values":[0,2,4,6,8,10],"labelOverlap":false,"title":null,"domain":false}},"y2":{"field":"y2"}}},
  {"data":{"name":"cBb"},"mark":{"type":"line","color":"#1a1acc","strokeWidth":2,"interpolate":"monotone"},"encoding":{
   "x":{"field":"v","type":"quantitative","scale":{"domain":[-140,-28],"nice":false,"zero":false},"axis":{"values":[-140,-120,-100,-80,-60,-40],"labelExpr":"'' + datum.value","labelOverlap":false,"labelFlush":false,"title":null}},
   "y":{"field":"y","type":"quantitative","scale":{"domain":[0,10],"nice":false,"zero":false},"axis":{"values":[0,2,4,6,8,10],"labelOverlap":false,"title":null,"domain":false}}}},
  {"data":{"name":"cBk"},"mark":{"type":"line","color":"#000","strokeWidth":2.2,"strokeDash":[7,4],"interpolate":"monotone"},"encoding":{
   "x":{"field":"v","type":"quantitative","scale":{"domain":[-140,-28],"nice":false,"zero":false},"axis":{"values":[-140,-120,-100,-80,-60,-40],"labelExpr":"'' + datum.value","labelOverlap":false,"labelFlush":false,"title":null}},
   "y":{"field":"y","type":"quantitative","scale":{"domain":[0,10],"nice":false,"zero":false},"axis":{"values":[0,2,4,6,8,10],"labelOverlap":false,"title":null,"domain":false}}}},
  {"data":{"values":[{"t":"Slow"}]},"mark":{"type":"text","fontSize":14},"encoding":{
   "x":{"datum":-87.3,"scale":{"domain":[-140,-28],"nice":false,"zero":false},"axis":{"values":[-140,-120,-100,-80,-60,-40],"labelExpr":"'' + datum.value","labelOverlap":false,"labelFlush":false,"title":null}},
   "y":{"datum":9.67,"scale":{"domain":[0,10],"nice":false,"zero":false},"axis":{"values":[0,2,4,6,8,10],"labelOverlap":false,"title":null,"domain":false}},"text":{"field":"t","type":"nominal"}}},
  {"data":{"values":[{"t":"B"}]},"mark":{"type":"text","fontSize":17},"encoding":{
   "x":{"datum":-170.4,"scale":{"domain":[-140,-28],"nice":false,"zero":false},"axis":{"values":[-140,-120,-100,-80,-60,-40],"labelExpr":"'' + datum.value","labelOverlap":false,"labelFlush":false,"title":null}},
   "y":{"datum":10.73,"scale":{"domain":[0,10],"nice":false,"zero":false},"axis":{"values":[0,2,4,6,8,10],"labelOverlap":false,"title":null,"domain":false}},"text":{"field":"t","type":"nominal"}}}
 ]},
{"width":125,"height":123,
 "layer":[
  {"data":{"name":"pE"},"mark":{"type":"circle","size":55,"opacity":0.3},"encoding":{
   "x":{"field":"v","type":"quantitative","scale":{"domain":[-140,-28],"nice":false,"zero":false},"axis":{"values":[-140,-120,-100,-80,-60,-40],"labelExpr":"'' + datum.value","labelOverlap":false,"labelFlush":false,"title":null}},
   "y":{"field":"y","type":"quantitative","scale":{"domain":[0,10],"nice":false,"zero":false},"axis":{"values":[0,2,4,6,8,10],"labelOverlap":false,"title":null}},
   "color":{"field":"c","type":"nominal","scale":{"domain":["b","g","r"],"range":["#5555ee","#33cc33","#ee4444"]},"legend":null}}},
  {"data":{"name":"eE"},"mark":{"type":"errorbar","color":"#b0b0b0","thickness":1.5,"ticks":{"size":6}},"encoding":{
   "x":{"field":"v","type":"quantitative","scale":{"domain":[-140,-28],"nice":false,"zero":false},"axis":{"values":[-140,-120,-100,-80,-60,-40],"labelExpr":"'' + datum.value","labelOverlap":false,"labelFlush":false,"title":null}},
   "y":{"field":"y","type":"quantitative","scale":{"domain":[0,10],"nice":false,"zero":false},"axis":{"values":[0,2,4,6,8,10],"labelOverlap":false,"title":null}},"y2":{"field":"y2"}}},
  {"data":{"name":"cEr"},"mark":{"type":"line","color":"#dd1111","strokeWidth":2,"interpolate":"monotone"},"encoding":{
   "x":{"field":"v","type":"quantitative","scale":{"domain":[-140,-28],"nice":false,"zero":false},"axis":{"values":[-140,-120,-100,-80,-60,-40],"labelExpr":"'' + datum.value","labelOverlap":false,"labelFlush":false,"title":null}},
   "y":{"field":"y","type":"quantitative","scale":{"domain":[0,10],"nice":false,"zero":false},"axis":{"values":[0,2,4,6,8,10],"labelOverlap":false,"title":null}}}},
  {"data":{"values":[{"t":"Fast"}]},"mark":{"type":"text","fontSize":14},"encoding":{
   "x":{"datum":-84.6,"scale":{"domain":[-140,-28],"nice":false,"zero":false},"axis":{"values":[-140,-120,-100,-80,-60,-40],"labelExpr":"'' + datum.value","labelOverlap":false,"labelFlush":false,"title":null}},
   "y":{"datum":9.67,"scale":{"domain":[0,10],"nice":false,"zero":false},"axis":{"values":[0,2,4,6,8,10],"labelOverlap":false,"title":null}},"text":{"field":"t","type":"nominal"}}},
  {"data":{"values":[{"t":"E"}]},"mark":{"type":"text","fontSize":17},"encoding":{
   "x":{"datum":-174.8,"scale":{"domain":[-140,-28],"nice":false,"zero":false},"axis":{"values":[-140,-120,-100,-80,-60,-40],"labelExpr":"'' + datum.value","labelOverlap":false,"labelFlush":false,"title":null}},
   "y":{"datum":10.73,"scale":{"domain":[0,10],"nice":false,"zero":false},"axis":{"values":[0,2,4,6,8,10],"labelOverlap":false,"title":null}},"text":{"field":"t","type":"nominal"}}},
  {"data":{"values":[{"t":"APICAL"}]},"mark":{"type":"text","fontSize":13},"encoding":{
   "x":{"datum":-22.1,"scale":{"domain":[-140,-28],"nice":false,"zero":false},"axis":{"values":[-140,-120,-100,-80,-60,-40],"labelExpr":"'' + datum.value","labelOverlap":false,"labelFlush":false,"title":null}},
   "y":{"datum":14.07,"scale":{"domain":[0,10],"nice":false,"zero":false},"axis":{"values":[0,2,4,6,8,10],"labelOverlap":false,"title":null}},"text":{"field":"t","type":"nominal"}}},
  {"data":{"values":[{"t":"line"}]},"mark":{"type":"rule","color":"#000","strokeWidth":1.2},"encoding":{
   "x":{"datum":-147.1,"scale":{"domain":[-140,-28],"nice":false,"zero":false},"axis":{"values":[-140,-120,-100,-80,-60,-40],"labelExpr":"'' + datum.value","labelOverlap":false,"labelFlush":false,"title":null}},"x2":{"datum":90.4},
   "y":{"datum":13.0,"scale":{"domain":[0,10],"nice":false,"zero":false},"axis":{"values":[0,2,4,6,8,10],"labelOverlap":false,"title":null}}}}
 ]},
{"width":125,"height":123,
 "layer":[
  {"data":{"name":"pF"},"mark":{"type":"square","size":60,"opacity":0.3},"encoding":{
   "x":{"field":"v","type":"quantitative","scale":{"domain":[-140,-28],"nice":false,"zero":false},"axis":{"values":[-140,-120,-100,-80,-60,-40],"labelExpr":"'' + datum.value","labelOverlap":false,"labelFlush":false,"title":null}},
   "y":{"field":"y","type":"quantitative","scale":{"domain":[0,10],"nice":false,"zero":false},"axis":{"values":[0,2,4,6,8,10],"labelOverlap":false,"title":null}},
   "color":{"field":"c","type":"nominal","scale":{"domain":["b","g","r"],"range":["#5555ee","#33cc33","#ee4444"]},"legend":null}}},
  {"data":{"name":"eF"},"mark":{"type":"errorbar","color":"#b0b0b0","thickness":1.5,"ticks":{"size":6}},"encoding":{
   "x":{"field":"v","type":"quantitative","scale":{"domain":[-140,-28],"nice":false,"zero":false},"axis":{"values":[-140,-120,-100,-80,-60,-40],"labelExpr":"'' + datum.value","labelOverlap":false,"labelFlush":false,"title":null}},
   "y":{"field":"y","type":"quantitative","scale":{"domain":[0,10],"nice":false,"zero":false},"axis":{"values":[0,2,4,6,8,10],"labelOverlap":false,"title":null}},"y2":{"field":"y2"}}},
  {"data":{"name":"cFk"},"mark":{"type":"line","color":"#000","strokeWidth":2.2,"strokeDash":[7,4],"interpolate":"monotone"},"encoding":{
   "x":{"field":"v","type":"quantitative","scale":{"domain":[-140,-28],"nice":false,"zero":false},"axis":{"values":[-140,-120,-100,-80,-60,-40],"labelExpr":"'' + datum.value","labelOverlap":false,"labelFlush":false,"title":null}},
   "y":{"field":"y","type":"quantitative","scale":{"domain":[0,10],"nice":false,"zero":false},"axis":{"values":[0,2,4,6,8,10],"labelOverlap":false,"title":null}}}},
  {"data":{"name":"cFr"},"mark":{"type":"line","color":"#dd1111","strokeWidth":2,"interpolate":"monotone"},"encoding":{
   "x":{"field":"v","type":"quantitative","scale":{"domain":[-140,-28],"nice":false,"zero":false},"axis":{"values":[-140,-120,-100,-80,-60,-40],"labelExpr":"'' + datum.value","labelOverlap":false,"labelFlush":false,"title":null}},
   "y":{"field":"y","type":"quantitative","scale":{"domain":[0,10],"nice":false,"zero":false},"axis":{"values":[0,2,4,6,8,10],"labelOverlap":false,"title":null}}}},
  {"data":{"values":[{"t":"Slow"}]},"mark":{"type":"text","fontSize":14},"encoding":{
   "x":{"datum":-87.3,"scale":{"domain":[-140,-28],"nice":false,"zero":false},"axis":{"values":[-140,-120,-100,-80,-60,-40],"labelExpr":"'' + datum.value","labelOverlap":false,"labelFlush":false,"title":null}},
   "y":{"datum":9.67,"scale":{"domain":[0,10],"nice":false,"zero":false},"axis":{"values":[0,2,4,6,8,10],"labelOverlap":false,"title":null}},"text":{"field":"t","type":"nominal"}}},
  {"data":{"values":[{"t":"F"}]},"mark":{"type":"text","fontSize":17},"encoding":{
   "x":{"datum":-172.1,"scale":{"domain":[-140,-28],"nice":false,"zero":false},"axis":{"values":[-140,-120,-100,-80,-60,-40],"labelExpr":"'' + datum.value","labelOverlap":false,"labelFlush":false,"title":null}},
   "y":{"datum":10.73,"scale":{"domain":[0,10],"nice":false,"zero":false},"axis":{"values":[0,2,4,6,8,10],"labelOverlap":false,"title":null}},"text":{"field":"t","type":"nominal"}}}
 ]},
{"width":125,"height":123,
 "layer":[
  {"data":{"name":"pC"},"mark":{"type":"circle","size":55,"opacity":0.3},"encoding":{
   "x":{"field":"v","type":"quantitative","scale":{"domain":[-140,-28],"nice":false,"zero":false},"axis":{"values":[-140,-120,-100,-80,-60,-40],"labelExpr":"'' + datum.value","labelOverlap":false,"labelFlush":false,"title":null}},
   "y":{"field":"y","type":"quantitative","scale":{"domain":[0,250],"nice":false,"zero":false},"axis":{"values":[0,50,100,150,200,250],"labelOverlap":false,"title":"τ (ms)"}},
   "color":{"field":"c","type":"nominal","scale":{"domain":["b","g","r"],"range":["#5555ee","#33cc33","#ee4444"]},"legend":null}}},
  {"data":{"name":"eC"},"mark":{"type":"errorbar","color":"#b0b0b0","thickness":1.5,"ticks":{"size":6}},"encoding":{
   "x":{"field":"v","type":"quantitative","scale":{"domain":[-140,-28],"nice":false,"zero":false},"axis":{"values":[-140,-120,-100,-80,-60,-40],"labelExpr":"'' + datum.value","labelOverlap":false,"labelFlush":false,"title":null}},
   "y":{"field":"y","type":"quantitative","scale":{"domain":[0,250],"nice":false,"zero":false},"axis":{"values":[0,50,100,150,200,250],"labelOverlap":false,"title":"τ (ms)"}},"y2":{"field":"y2"}}},
  {"data":{"name":"cCb"},"mark":{"type":"line","color":"#1a1acc","strokeWidth":2,"interpolate":"monotone"},"encoding":{
   "x":{"field":"v","type":"quantitative","scale":{"domain":[-140,-28],"nice":false,"zero":false},"axis":{"values":[-140,-120,-100,-80,-60,-40],"labelExpr":"'' + datum.value","labelOverlap":false,"labelFlush":false,"title":null}},
   "y":{"field":"y","type":"quantitative","scale":{"domain":[0,250],"nice":false,"zero":false},"axis":{"values":[0,50,100,150,200,250],"labelOverlap":false,"title":"τ (ms)"}}}},
  {"data":{"values":[{"t":"C"}]},"mark":{"type":"text","fontSize":17},"encoding":{
   "x":{"datum":-176.2,"scale":{"domain":[-140,-28],"nice":false,"zero":false},"axis":{"values":[-140,-120,-100,-80,-60,-40],"labelExpr":"'' + datum.value","labelOverlap":false,"labelFlush":false,"title":null}},
   "y":{"datum":276.4,"scale":{"domain":[0,250],"nice":false,"zero":false},"axis":{"values":[0,50,100,150,200,250],"labelOverlap":false,"title":"τ (ms)"}},"text":{"field":"t","type":"nominal"}}}
 ]},
{"width":125,"height":123,
 "layer":[
  {"data":{"name":"pD"},"mark":{"type":"square","size":60,"opacity":0.3},"encoding":{
   "x":{"field":"v","type":"quantitative","scale":{"domain":[-140,-28],"nice":false,"zero":false},"axis":{"values":[-140,-120,-100,-80,-60,-40],"labelExpr":"'' + datum.value","labelOverlap":false,"labelFlush":false,"title":null}},
   "y":{"field":"y","type":"quantitative","scale":{"domain":[0,800],"nice":false,"zero":false},"axis":{"values":[0,100,200,300,400,500,600,700,800],"labelExpr":"datum.value % 200 == 0 ? datum.label : ''","labelOverlap":false,"title":null}},
   "color":{"field":"c","type":"nominal","scale":{"domain":["b","g","r"],"range":["#5555ee","#33cc33","#ee4444"]},"legend":null}}},
  {"data":{"name":"eD"},"mark":{"type":"errorbar","color":"#b0b0b0","thickness":1.5,"ticks":{"size":6}},"encoding":{
   "x":{"field":"v","type":"quantitative","scale":{"domain":[-140,-28],"nice":false,"zero":false},"axis":{"values":[-140,-120,-100,-80,-60,-40],"labelExpr":"'' + datum.value","labelOverlap":false,"labelFlush":false,"title":null}},
   "y":{"field":"y","type":"quantitative","scale":{"domain":[0,800],"nice":false,"zero":false},"axis":{"values":[0,100,200,300,400,500,600,700,800],"labelExpr":"datum.value % 200 == 0 ? datum.label : ''","labelOverlap":false,"title":null}},"y2":{"field":"y2"}}},
  {"data":{"name":"cDb"},"mark":{"type":"line","color":"#1a1acc","strokeWidth":2,"interpolate":"monotone"},"encoding":{
   "x":{"field":"v","type":"quantitative","scale":{"domain":[-140,-28],"nice":false,"zero":false},"axis":{"values":[-140,-120,-100,-80,-60,-40],"labelExpr":"'' + datum.value","labelOverlap":false,"labelFlush":false,"title":null}},
   "y":{"field":"y","type":"quantitative","scale":{"domain":[0,800],"nice":false,"zero":false},"axis":{"values":[0,100,200,300,400,500,600,700,800],"labelExpr":"datum.value % 200 == 0 ? datum.label : ''","labelOverlap":false,"title":null}}}},
  {"data":{"values":[{"t":"D"}]},"mark":{"type":"text","fontSize":17},"encoding":{
   "x":{"datum":-171.25,"scale":{"domain":[-140,-28],"nice":false,"zero":false},"axis":{"values":[-140,-120,-100,-80,-60,-40],"labelExpr":"'' + datum.value","labelOverlap":false,"labelFlush":false,"title":null}},
   "y":{"datum":884.6,"scale":{"domain":[0,800],"nice":false,"zero":false},"axis":{"values":[0,100,200,300,400,500,600,700,800],"labelExpr":"datum.value % 200 == 0 ? datum.label : ''","labelOverlap":false,"title":null}},"text":{"field":"t","type":"nominal"}}}
 ]},
{"width":125,"height":123,
 "layer":[
  {"data":{"name":"pG"},"mark":{"type":"circle","size":55,"opacity":0.3},"encoding":{
   "x":{"field":"v","type":"quantitative","scale":{"domain":[-140,-28],"nice":false,"zero":false},"axis":{"values":[-140,-120,-100,-80,-60,-40],"labelExpr":"'' + datum.value","labelOverlap":false,"labelFlush":false,"title":null}},
   "y":{"field":"y","type":"quantitative","scale":{"domain":[0,250],"nice":false,"zero":false},"axis":{"values":[0,50,100,150,200,250],"labelOverlap":false,"title":null}},
   "color":{"field":"c","type":"nominal","scale":{"domain":["b","g","r"],"range":["#5555ee","#33cc33","#ee4444"]},"legend":null}}},
  {"data":{"name":"eG"},"mark":{"type":"errorbar","color":"#b0b0b0","thickness":1.5,"ticks":{"size":6}},"encoding":{
   "x":{"field":"v","type":"quantitative","scale":{"domain":[-140,-28],"nice":false,"zero":false},"axis":{"values":[-140,-120,-100,-80,-60,-40],"labelExpr":"'' + datum.value","labelOverlap":false,"labelFlush":false,"title":null}},
   "y":{"field":"y","type":"quantitative","scale":{"domain":[0,250],"nice":false,"zero":false},"axis":{"values":[0,50,100,150,200,250],"labelOverlap":false,"title":null}},"y2":{"field":"y2"}}},
  {"data":{"name":"cGr"},"mark":{"type":"line","color":"#dd1111","strokeWidth":2,"interpolate":"monotone"},"encoding":{
   "x":{"field":"v","type":"quantitative","scale":{"domain":[-140,-28],"nice":false,"zero":false},"axis":{"values":[-140,-120,-100,-80,-60,-40],"labelExpr":"'' + datum.value","labelOverlap":false,"labelFlush":false,"title":null}},
   "y":{"field":"y","type":"quantitative","scale":{"domain":[0,250],"nice":false,"zero":false},"axis":{"values":[0,50,100,150,200,250],"labelOverlap":false,"title":null}}}},
  {"data":{"values":[{"t":"G"}]},"mark":{"type":"text","fontSize":17},"encoding":{
   "x":{"datum":-175.7,"scale":{"domain":[-140,-28],"nice":false,"zero":false},"axis":{"values":[-140,-120,-100,-80,-60,-40],"labelExpr":"'' + datum.value","labelOverlap":false,"labelFlush":false,"title":null}},
   "y":{"datum":276.4,"scale":{"domain":[0,250],"nice":false,"zero":false},"axis":{"values":[0,50,100,150,200,250],"labelOverlap":false,"title":null}},"text":{"field":"t","type":"nominal"}}}
 ]},
{"width":125,"height":123,
 "layer":[
  {"data":{"name":"pH"},"mark":{"type":"square","size":60,"opacity":0.3},"encoding":{
   "x":{"field":"v","type":"quantitative","scale":{"domain":[-140,-28],"nice":false,"zero":false},"axis":{"values":[-140,-120,-100,-80,-60,-40],"labelExpr":"'' + datum.value","labelOverlap":false,"labelFlush":false,"title":null}},
   "y":{"field":"y","type":"quantitative","scale":{"domain":[0,800],"nice":false,"zero":false},"axis":{"values":[0,100,200,300,400,500,600,700,800],"labelExpr":"datum.value % 200 == 0 ? datum.label : ''","labelOverlap":false,"title":null}},
   "color":{"field":"c","type":"nominal","scale":{"domain":["b","g","r"],"range":["#5555ee","#33cc33","#ee4444"]},"legend":null}}},
  {"data":{"name":"eH"},"mark":{"type":"errorbar","color":"#b0b0b0","thickness":1.5,"ticks":{"size":6}},"encoding":{
   "x":{"field":"v","type":"quantitative","scale":{"domain":[-140,-28],"nice":false,"zero":false},"axis":{"values":[-140,-120,-100,-80,-60,-40],"labelExpr":"'' + datum.value","labelOverlap":false,"labelFlush":false,"title":null}},
   "y":{"field":"y","type":"quantitative","scale":{"domain":[0,800],"nice":false,"zero":false},"axis":{"values":[0,100,200,300,400,500,600,700,800],"labelExpr":"datum.value % 200 == 0 ? datum.label : ''","labelOverlap":false,"title":null}},"y2":{"field":"y2"}}},
  {"data":{"name":"cHr"},"mark":{"type":"line","color":"#dd1111","strokeWidth":2,"interpolate":"monotone"},"encoding":{
   "x":{"field":"v","type":"quantitative","scale":{"domain":[-140,-28],"nice":false,"zero":false},"axis":{"values":[-140,-120,-100,-80,-60,-40],"labelExpr":"'' + datum.value","labelOverlap":false,"labelFlush":false,"title":null}},
   "y":{"field":"y","type":"quantitative","scale":{"domain":[0,800],"nice":false,"zero":false},"axis":{"values":[0,100,200,300,400,500,600,700,800],"labelExpr":"datum.value % 200 == 0 ? datum.label : ''","labelOverlap":false,"title":null}}}},
  {"data":{"values":[{"t":"H"}]},"mark":{"type":"text","fontSize":17},"encoding":{
   "x":{"datum":-173,"scale":{"domain":[-140,-28],"nice":false,"zero":false},"axis":{"values":[-140,-120,-100,-80,-60,-40],"labelExpr":"'' + datum.value","labelOverlap":false,"labelFlush":false,"title":null}},
   "y":{"datum":884.6,"scale":{"domain":[0,800],"nice":false,"zero":false},"axis":{"values":[0,100,200,300,400,500,600,700,800],"labelExpr":"datum.value % 200 == 0 ? datum.label : ''","labelOverlap":false,"title":null}},"text":{"field":"t","type":"nominal"}}}
 ]},
{"width":125,"height":123,
 "layer":[
  {"data":{"name":"cAb"},"mark":{"type":"line","color":"#1a1acc","strokeWidth":2,"interpolate":"monotone"},"encoding":{
   "x":{"field":"v","type":"quantitative","scale":{"domain":[-140,-28],"nice":false,"zero":false},"axis":{"values":[-140,-120,-100,-80,-60,-40],"labelExpr":"'' + datum.value","labelOverlap":false,"labelFlush":false,"title":"V (mV)"}},
   "y":{"field":"y","type":"quantitative","scale":{"domain":[0,10],"nice":false,"zero":false},"axis":{"values":[0,2,4,6,8,10],"labelOverlap":false,"title":"g (nS)"}}}},
  {"data":{"name":"cEr"},"mark":{"type":"line","color":"#dd1111","strokeWidth":2,"interpolate":"monotone"},"encoding":{
   "x":{"field":"v","type":"quantitative","scale":{"domain":[-140,-28],"nice":false,"zero":false},"axis":{"values":[-140,-120,-100,-80,-60,-40],"labelExpr":"'' + datum.value","labelOverlap":false,"labelFlush":false,"title":"V (mV)"}},
   "y":{"field":"y","type":"quantitative","scale":{"domain":[0,10],"nice":false,"zero":false},"axis":{"values":[0,2,4,6,8,10],"labelOverlap":false,"title":"g (nS)"}}}},
  {"data":{"values":[{"t":"I"}]},"mark":{"type":"text","fontSize":17},"encoding":{
   "x":{"datum":-179.3,"scale":{"domain":[-140,-28],"nice":false,"zero":false},"axis":{"values":[-140,-120,-100,-80,-60,-40],"labelExpr":"'' + datum.value","labelOverlap":false,"labelFlush":false,"title":"V (mV)"}},
   "y":{"datum":10.8,"scale":{"domain":[0,10],"nice":false,"zero":false},"axis":{"values":[0,2,4,6,8,10],"labelOverlap":false,"title":"g (nS)"}},"text":{"field":"t","type":"nominal"}}}
 ]},
{"width":125,"height":123,
 "layer":[
  {"data":{"name":"cBb"},"mark":{"type":"line","color":"#1a1acc","strokeWidth":2,"interpolate":"monotone"},"encoding":{
   "x":{"field":"v","type":"quantitative","scale":{"domain":[-140,-28],"nice":false,"zero":false},"axis":{"values":[-140,-120,-100,-80,-60,-40],"labelExpr":"'' + datum.value","labelOverlap":false,"labelFlush":false,"title":"V (mV)"}},
   "y":{"field":"y","type":"quantitative","scale":{"domain":[0,10],"nice":false,"zero":false},"axis":{"values":[0,2,4,6,8,10],"labelOverlap":false,"title":"g (nS)"}}}},
  {"data":{"name":"cFk"},"mark":{"type":"line","color":"#dd1111","strokeWidth":2,"interpolate":"monotone"},"encoding":{
   "x":{"field":"v","type":"quantitative","scale":{"domain":[-140,-28],"nice":false,"zero":false},"axis":{"values":[-140,-120,-100,-80,-60,-40],"labelExpr":"'' + datum.value","labelOverlap":false,"labelFlush":false,"title":"V (mV)"}},
   "y":{"field":"y","type":"quantitative","scale":{"domain":[0,10],"nice":false,"zero":false},"axis":{"values":[0,2,4,6,8,10],"labelOverlap":false,"title":"g (nS)"}}}},
  {"data":{"values":[{"t":"J"}]},"mark":{"type":"text","fontSize":17},"encoding":{
   "x":{"datum":-173.9,"scale":{"domain":[-140,-28],"nice":false,"zero":false},"axis":{"values":[-140,-120,-100,-80,-60,-40],"labelExpr":"'' + datum.value","labelOverlap":false,"labelFlush":false,"title":"V (mV)"}},
   "y":{"datum":10.8,"scale":{"domain":[0,10],"nice":false,"zero":false},"axis":{"values":[0,2,4,6,8,10],"labelOverlap":false,"title":"g (nS)"}},"text":{"field":"t","type":"nominal"}}}
 ]},
{"width":125,"height":123,
 "layer":[
  {"data":{"name":"cCb"},"mark":{"type":"line","color":"#1a1acc","strokeWidth":2,"interpolate":"monotone"},"encoding":{
   "x":{"field":"v","type":"quantitative","scale":{"domain":[-140,-28],"nice":false,"zero":false},"axis":{"values":[-140,-120,-100,-80,-60,-40],"labelExpr":"'' + datum.value","labelOverlap":false,"labelFlush":false,"title":"V (mV)"}},
   "y":{"field":"y","type":"quantitative","scale":{"domain":[0,250],"nice":false,"zero":false},"axis":{"values":[0,50,100,150,200,250],"labelOverlap":false,"title":"τ (ms)"}}}},
  {"data":{"name":"cGr"},"mark":{"type":"line","color":"#dd1111","strokeWidth":2,"interpolate":"monotone"},"encoding":{
   "x":{"field":"v","type":"quantitative","scale":{"domain":[-140,-28],"nice":false,"zero":false},"axis":{"values":[-140,-120,-100,-80,-60,-40],"labelExpr":"'' + datum.value","labelOverlap":false,"labelFlush":false,"title":"V (mV)"}},
   "y":{"field":"y","type":"quantitative","scale":{"domain":[0,250],"nice":false,"zero":false},"axis":{"values":[0,50,100,150,200,250],"labelOverlap":false,"title":"τ (ms)"}}}},
  {"data":{"values":[{"t":"K"}]},"mark":{"type":"text","fontSize":17},"encoding":{
   "x":{"datum":-175.7,"scale":{"domain":[-140,-28],"nice":false,"zero":false},"axis":{"values":[-140,-120,-100,-80,-60,-40],"labelExpr":"'' + datum.value","labelOverlap":false,"labelFlush":false,"title":"V (mV)"}},
   "y":{"datum":270.3,"scale":{"domain":[0,250],"nice":false,"zero":false},"axis":{"values":[0,50,100,150,200,250],"labelOverlap":false,"title":"τ (ms)"}},"text":{"field":"t","type":"nominal"}}}
 ]},
{"width":125,"height":123,
 "layer":[
  {"data":{"name":"cDb"},"mark":{"type":"line","color":"#1a1acc","strokeWidth":2,"interpolate":"monotone"},"encoding":{
   "x":{"field":"v","type":"quantitative","scale":{"domain":[-140,-28],"nice":false,"zero":false},"axis":{"values":[-140,-120,-100,-80,-60,-40],"labelExpr":"'' + datum.value","labelOverlap":false,"labelFlush":false,"title":"V (mV)"}},
   "y":{"field":"y","type":"quantitative","scale":{"domain":[0,800],"nice":false,"zero":false},"axis":{"values":[0,100,200,300,400,500,600,700,800],"labelExpr":"datum.value % 200 == 0 ? datum.label : ''","labelOverlap":false,"title":"τ (ms)"}}}},
  {"data":{"name":"cHr"},"mark":{"type":"line","color":"#dd1111","strokeWidth":2,"interpolate":"monotone"},"encoding":{
   "x":{"field":"v","type":"quantitative","scale":{"domain":[-140,-28],"nice":false,"zero":false},"axis":{"values":[-140,-120,-100,-80,-60,-40],"labelExpr":"'' + datum.value","labelOverlap":false,"labelFlush":false,"title":"V (mV)"}},
   "y":{"field":"y","type":"quantitative","scale":{"domain":[0,800],"nice":false,"zero":false},"axis":{"values":[0,100,200,300,400,500,600,700,800],"labelExpr":"datum.value % 200 == 0 ? datum.label : ''","labelOverlap":false,"title":"τ (ms)"}}}},
  {"data":{"values":[{"t":"L"}]},"mark":{"type":"text","fontSize":17},"encoding":{
   "x":{"datum":-175.7,"scale":{"domain":[-140,-28],"nice":false,"zero":false},"axis":{"values":[-140,-120,-100,-80,-60,-40],"labelExpr":"'' + datum.value","labelOverlap":false,"labelFlush":false,"title":"V (mV)"}},
   "y":{"datum":865,"scale":{"domain":[0,800],"nice":false,"zero":false},"axis":{"values":[0,100,200,300,400,500,600,700,800],"labelExpr":"datum.value % 200 == 0 ? datum.label : ''","labelOverlap":false,"title":"τ (ms)"}},"text":{"field":"t","type":"nominal"}}}
 ]}
]
}
